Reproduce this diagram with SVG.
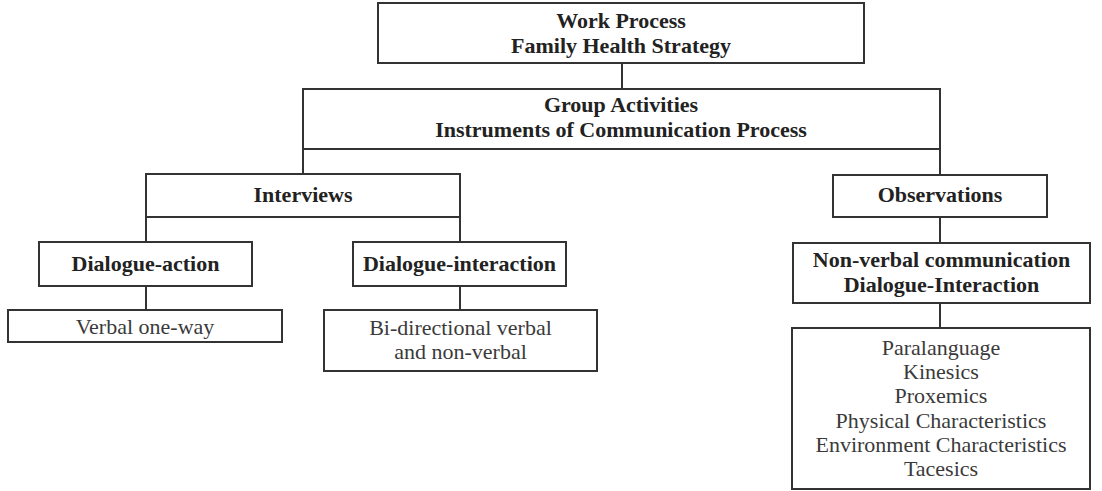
<svg xmlns="http://www.w3.org/2000/svg" width="1102" height="491" viewBox="0 0 1102 491">
<style>
rect{fill:#fff;stroke:#333;stroke-width:2}
.c line{stroke:#333;stroke-width:2}
text{font-family:"Liberation Serif","Times New Roman",serif;font-size:22px;text-anchor:middle}
.b{font-weight:bold;fill:#222}
.r{fill:#3a3a3a}
</style>
<rect width="1102" height="491" style="fill:#fff;stroke:none"/>
<g class="c" id="connectors">
<line x1="622" y1="63" x2="622" y2="89"/>
<line x1="303" y1="149" x2="303" y2="174"/>
<line x1="940" y1="149" x2="940" y2="175"/>
<line x1="146" y1="217" x2="146" y2="242"/>
<line x1="460" y1="217" x2="460" y2="242"/>
<line x1="146" y1="286" x2="146" y2="310"/>
<line x1="460" y1="286" x2="460" y2="310"/>
<line x1="940" y1="217" x2="940" y2="243"/>
<line x1="940" y1="303" x2="940" y2="328"/>
</g>
<g id="work">
<rect x="378" y="3" width="486" height="60"/>
<text class="b" x="621" y="28">Work Process</text>
<text class="b" x="621" y="53">Family Health Strategy</text>
</g>
<g id="group">
<rect x="303" y="89" width="637" height="60"/>
<text class="b" x="621" y="112">Group Activities</text>
<text class="b" x="621" y="137">Instruments of Communication Process</text>
</g>
<g id="interviews">
<rect x="146" y="174" width="314" height="43"/>
<text class="b" x="303" y="202">Interviews</text>
</g>
<g id="observations">
<rect x="833" y="175" width="214" height="42"/>
<text class="b" x="940" y="202">Observations</text>
</g>
<g id="dialogue-action">
<rect x="39" y="242" width="213" height="44"/>
<text class="b" x="145.500" y="271">Dialogue-action</text>
</g>
<g id="dialogue-interaction">
<rect x="353" y="242" width="213" height="44"/>
<text class="b" x="459.500" y="271">Dialogue-interaction</text>
</g>
<g id="nonverbal">
<rect x="793" y="243" width="297" height="60"/>
<text class="b" x="941.500" y="267">Non-verbal communication</text>
<text class="b" x="941.500" y="292">Dialogue-Interaction</text>
</g>
<g id="verbal">
<rect x="8" y="310" width="274" height="32"/>
<text class="r" x="145" y="334">Verbal one-way</text>
</g>
<g id="bidirectional">
<rect x="324" y="310" width="273" height="61"/>
<text class="r" x="460.500" y="335">Bi-directional verbal</text>
<text class="r" x="460.500" y="359">and non-verbal</text>
</g>
<g id="elements">
<rect x="792" y="328" width="298" height="161"/>
<text class="r" x="941" y="355">Paralanguage</text>
<text class="r" x="941" y="379">Kinesics</text>
<text class="r" x="941" y="403">Proxemics</text>
<text class="r" x="941" y="428">Physical Characteristics</text>
<text class="r" x="941" y="452">Environment Characteristics</text>
<text class="r" x="941" y="476">Tacesics</text>
</g>
</svg>
